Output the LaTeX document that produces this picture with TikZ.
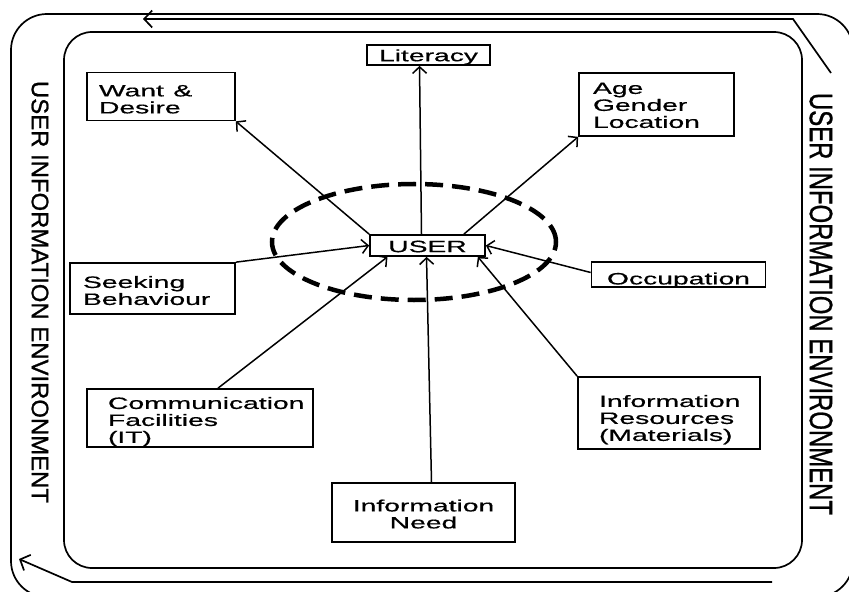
\documentclass[tikz,border=0pt]{standalone}
\usepackage{fontspec}
\setmainfont{Liberation Sans}
\newfontfamily\boxfont[FakeBold=0.5]{Liberation Sans}
\newfontfamily\sidefont[FakeBold=1.0]{Liberation Sans}
\usetikzlibrary{arrows.meta}
\newcommand\myx[2][0bp]{\raisebox{-#1}[\height][\depth]{\scalebox{1.72}[1]{#2}}}
\begin{document}
\begin{tikzpicture}[x=1bp,y=-1bp,
  box/.style={draw, line width=1.7bp, inner ysep=0pt, align=left,
    font=\boxfont\fontsize{16.5}{17}\selectfont},
  conn/.style={line width=1.5bp, -{Straight Barb[length=6.5bp,width=14bp]}},
  frame/.style={line width=1.7bp},
  farrow/.style={frame, -{Straight Barb[length=8bp,width=17bp]}},
  side/.style={rotate=-90, font=\sidefont\fontsize{24}{28}\selectfont, inner sep=0pt},
  dashring/.style={line width=4.5bp, dash pattern=on 18bp off 9bp}]

\useasboundingbox (0,0) rectangle (849,592);
\clip (0,0) rectangle (849,592);

% frames
\draw[frame, rounded corners=36bp] (11,14) rectangle (853,597);
\draw[frame, rounded corners=28bp] (64,32) rectangle (802,568);
\coordinate (ta1) at (831,73);
\coordinate (ta2) at (793,19);
\coordinate (ta3) at (143,19);
\draw[farrow] (ta1) -- (ta2) -- (ta3);
\coordinate (ba1) at (772,582);
\coordinate (ba2) at (72,582);
\coordinate (ba3) at (19,559);
\draw[farrow] (ba1) -- (ba2) -- (ba3);

% side texts
\node[side] (envl) at (40,292) {USER INFORMATION ENVIRONMENT};
\node[side] (envr) at (821,304) {\scalebox{1}[1.35]{USER INFORMATION ENVIRONMENT}};

% dashed ring
\draw[dashring] (414,242) ellipse [x radius=142bp, y radius=58bp];

% boxes
\node[box, minimum width=123bp, minimum height=20bp] (lit) at (428.5,55) {\myx[2bp]{Literacy}};
\node[box, minimum width=148bp, minimum height=48bp, inner xsep=12bp, text width=124bp] (want) at (161,96.5)
  {\myx[5bp]{\begin{tabular}{@{}l@{}}Want \&\\Desire\end{tabular}}};
\node[box, minimum width=155bp, minimum height=63bp, inner xsep=14bp, text width=127bp] (age) at (656.5,104.5)
  {\myx[3bp]{\begin{tabular}{@{}l@{}}Age\\Gender\\Location\end{tabular}}};
\node[box, minimum width=115bp, minimum height=21bp] (user) at (427.5,245.5) {\myx[1bp]{USER}};
\node[box, minimum width=165bp, minimum height=51bp, inner xsep=13bp, text width=139bp] (seek) at (152.5,288.5)
  {\myx[4.5bp]{\begin{tabular}{@{}l@{}}Seeking\\Behaviour\end{tabular}}};
\node[box, minimum width=174bp, minimum height=25bp] (occ) at (678.5,274.5)
  {\myx[6.5bp]{\begin{tabular}{@{}c@{}}Occupation\end{tabular}}};
\node[box, minimum width=226bp, minimum height=58bp, inner xsep=21bp, text width=184bp] (comm) at (200,418)
  {\myx[4.5bp]{\begin{tabular}{@{}l@{}}Communication\\Facilities\\(IT)\end{tabular}}};
\node[box, minimum width=182bp, minimum height=72bp, inner xsep=21bp, text width=140bp] (res) at (669,413)
  {\myx[7.5bp]{\begin{tabular}{@{}l@{}}Information\\Resources\\(Materials)\end{tabular}}};
\node[box, minimum width=183bp, minimum height=59bp] (need) at (423.5,512.5)
  {\myx[4bp]{\begin{tabular}{@{}c@{}}Information\\Need\end{tabular}}};

% connectors
\draw[conn] (user.north west) -- (want.south east);
\draw[conn] ([xshift=-6bp]user.north) -- ([xshift=-9bp]lit.south);
\draw[conn] ([xshift=-22bp]user.north east) -- (age.south west);
\draw[conn] (seek.north east) -- (user.west);
\draw[conn] ([yshift=2bp]occ.west) -- (user.east);
\draw[conn] ([xshift=18bp]comm.north) -- ([xshift=-40bp]user.south);
\draw[conn] ([xshift=8bp]need.north) -- ([xshift=-1bp]user.south);
\draw[conn] (res.north west) -- ([xshift=-8bp]user.south east);
\end{tikzpicture}
\end{document}
